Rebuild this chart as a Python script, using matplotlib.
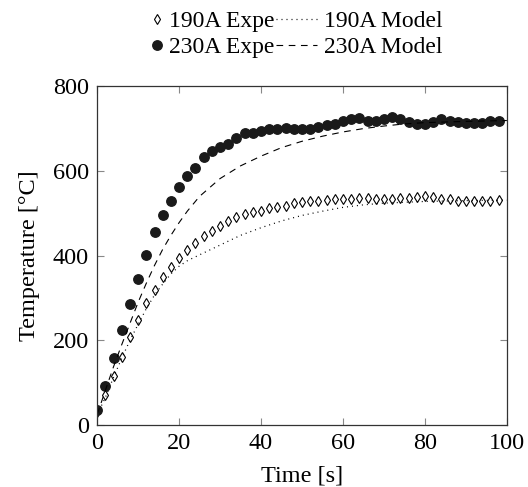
import numpy as np
import matplotlib
matplotlib.use('Agg')
import matplotlib.pyplot as plt

plt.rcParams['font.family'] = ['Liberation Serif', 'DejaVu Serif']

# measured points, every 2 s
t_exp = np.arange(0, 100, 2)
exp_190 = [30, 71, 116, 162, 208, 249, 289, 320, 349, 374,
           395, 413, 431, 446, 458, 471, 482, 491, 498, 502,
           506, 512, 516, 518, 524, 527, 529, 530, 532, 533,
           534, 534, 536, 536, 534, 534, 534, 536, 536, 538,
           540, 538, 534, 533, 530, 530, 530, 530, 530, 531]
exp_230 = [36, 92, 159, 224, 287, 345, 402, 455, 495, 530,
           561, 588, 606, 634, 648, 656, 664, 678, 689, 690,
           695, 698, 700, 702, 700, 700, 700, 703, 708, 711,
           717, 723, 725, 719, 718, 722, 728, 723, 715, 711,
           711, 715, 722, 719, 716, 712, 712, 713, 717, 719]

# model curves
t_mod = [0, 2, 4, 6, 8, 10, 12, 14, 16, 18, 20, 22, 25, 30, 35, 40,
         45, 50, 55, 60, 65, 70, 75, 80, 90, 100]
mod_190 = [25, 65, 113, 158, 200, 238, 275, 307, 333, 357, 375, 388, 402,
           425, 448, 466, 482, 495, 505, 514, 520, 524, 526, 528, 530, 531]
mod_230 = [25, 82, 138, 190, 240, 290, 335, 377, 415, 448, 478, 505, 540,
           582, 612, 635, 655, 670, 682, 692, 700, 706, 711, 714, 717, 719]

fs = 17.5

fig = plt.figure(figsize=(5.28, 4.87), dpi=100)
ax = fig.add_axes([0.184, 0.127, 0.776, 0.696])

l1, = ax.plot(t_exp, exp_190, linestyle='none', marker='d', markersize=5.5,
              markerfacecolor='white', markeredgecolor='black', markeredgewidth=0.8)
l2, = ax.plot(t_mod, mod_190, color='black', linestyle=(0, (0.8, 3.2)), linewidth=0.9)
l3, = ax.plot(t_exp, exp_230, linestyle='none', marker='o', markersize=6.8,
              color='#1a1a1a')
l4, = ax.plot(t_mod, mod_230, color='black', linestyle=(0, (6, 5)), linewidth=0.8)

ax.set_xlim(0, 100)
ax.set_ylim(0, 800)
ax.set_xticks([0, 20, 40, 60, 80, 100])
ax.set_yticks([0, 200, 400, 600, 800])
ax.tick_params(direction='in', top=True, right=True, length=5, width=0.8,
               color='#888888', labelsize=fs, pad=6)
for s in ax.spines.values():
    s.set_linewidth(0.9)
    s.set_color('#333333')
ax.set_xlabel('Time [s]', fontsize=fs, labelpad=8)
ax.set_ylabel('Temperature [°C]', fontsize=fs, labelpad=9)

# two legend columns, the marker column has a short handle
leg1 = fig.legend([l1, l3], ['190A Expe', '230A Expe'], loc='upper left',
                  bbox_to_anchor=(0.283, 0.978), frameon=False, fontsize=17,
                  handlelength=0.6, handletextpad=0.25, labelspacing=0.2,
                  borderpad=0, borderaxespad=0)
leg2 = fig.legend([l2, l4], ['190A Model', '230A Model'], loc='upper left',
                  bbox_to_anchor=(0.522, 0.978), frameon=False, fontsize=17,
                  handlelength=1.75, handletextpad=0.3, labelspacing=0.2,
                  borderpad=0, borderaxespad=0)

fig.savefig('out.png', dpi=100)
